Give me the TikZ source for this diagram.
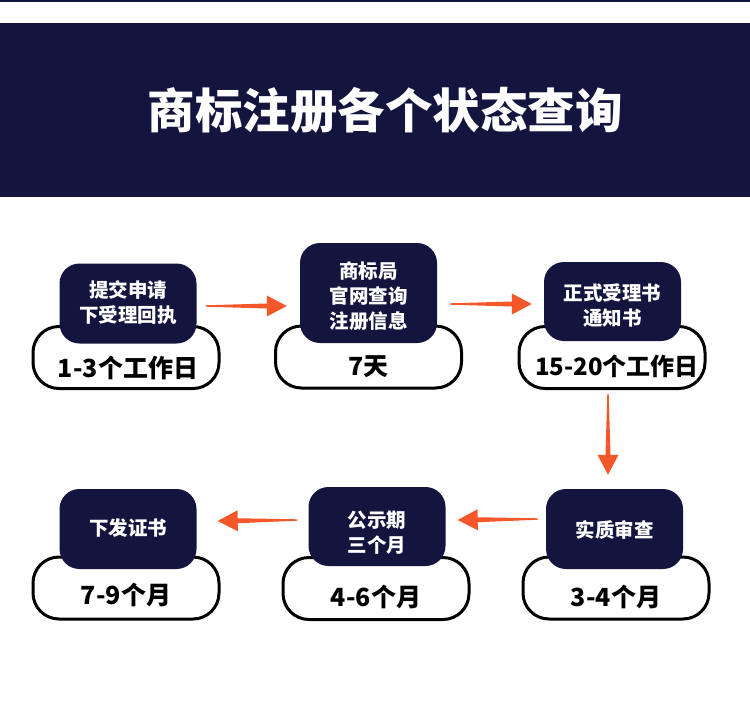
\documentclass[tikz,border=0pt]{standalone}
\usepackage{fontspec}
\newfontfamily\cjk{Noto Sans CJK SC}
\usetikzlibrary{calc}
\definecolor{navy}{HTML}{14153F}
\definecolor{arrowc}{HTML}{F4582A}
\newcommand{\tarrow}[2]{%
  \coordinate (th) at ($(#2)!20pt!(#1)$);
  \fill[arrowc] ($(#1)!0.7pt!90:(#2)$) -- ($(th)!2.5pt!90:(#2)$) -- ($(th)!10.5pt!90:(#2)$)
    -- (#2) -- ($(th)!10.5pt!-90:(#2)$) -- ($(th)!2.5pt!-90:(#2)$) -- ($(#1)!0.7pt!-90:(#2)$) -- cycle;}
\tikzset{
  darkbox/.style={fill=navy, rounded corners=20pt, inner sep=0pt, minimum width=137pt, minimum height=80pt},
  whitebox/.style={fill=white, draw=black, line width=3pt, rounded corners=26pt, inner sep=0pt, minimum width=186pt, minimum height=62pt},
  boxtext/.style={text=white, align=center, font=\cjk\bfseries\fontsize{19.5}{25}\selectfont, inner sep=0pt},
  timetext/.style={text=black, font=\cjk\bfseries\fontsize{25}{30}\selectfont, inner sep=0pt},
  titletext/.style={text=white, font=\cjk\bfseries\fontsize{47.5}{56}\selectfont, inner sep=0pt}
}
\begin{document}
\begin{tikzpicture}[x=1pt,y=-1pt]
\useasboundingbox (0,0) rectangle (750,718);
\fill[white] (0,0) rectangle (750,718);
\fill[navy] (0,0) rectangle (750,2);
\fill[navy] (0,23) rectangle (750,197);
\node[titletext] (title) at (385,110) {商标注册各个状态查询};

% white boxes
\node[whitebox] (w1) at (126,357.5) {};
\node[whitebox] (w2) at (368.5,357) {};
\node[whitebox] (w3) at (612,357.5) {};
\node[whitebox] (w4) at (616,588) {};
\node[whitebox] (w5) at (376,588.5) {};
\node[whitebox] (w6) at (126,588) {};

% dark boxes
\node[darkbox] (d1) at (128,303.5) {};
\node[darkbox, minimum height=100pt] (d2) at (368.5,293) {};
\node[darkbox, minimum height=79pt] (d3) at (612.5,301.5) {};
\node[darkbox] (d4) at (614.5,529) {};
\node[darkbox, minimum height=79pt] (d5) at (377,526.5) {};
\node[darkbox] (d6) at (128,529) {};

% box texts
\node[boxtext] (t1) at (128,303) {提交申请\\下受理回执};
\node[boxtext] (t2) at (368.5,296) {商标局\\官网查询\\注册信息};
\node[boxtext] (t3) at (612.5,306) {正式受理书\\通知书};
\node[boxtext] (t4) at (614.5,530) {实质审查};
\node[boxtext] (t5) at (377,532.5) {公示期\\三个月};
\node[boxtext] (t6) at (128,528) {下发证书};

% time texts
\node[timetext] (n1) at (128,368) {1-3个工作日};
\node[timetext] (n2) at (368.5,367) {7天};
\node[timetext, font=\cjk\bfseries\fontsize{24}{30}\selectfont] (n3) at (617,366) {15-20个工作日};
\node[timetext] (n4) at (616,597) {3-4个月};
\node[timetext] (n5) at (376,597) {4-6个月};
\node[timetext] (n6) at (126,595) {7-9个月};

% arrows
\coordinate (a1s) at ($(d1.east)+(9,2.5)$);
\coordinate (a1e) at ($(d2.west)+(-13,13)$);
\tarrow{a1s}{a1e}
\coordinate (a2s) at ($(d2.east)+(13,11)$);
\coordinate (a2e) at ($(d3.west)+(-12,2.5)$);
\tarrow{a2s}{a2e}
\coordinate (a3s) at ($(w3.south)+(-4,4)$);
\coordinate (a3e) at ($(d4.north)+(-6.5,-14)$);
\tarrow{a3s}{a3e}
\coordinate (a4s) at ($(d4.west)+(-8,-10)$);
\coordinate (a4e) at ($(d5.east)+(12,-6.5)$);
\tarrow{a4s}{a4e}
\coordinate (a5s) at ($(d5.west)+(-11,-6.5)$);
\coordinate (a5e) at ($(d6.east)+(21,-8)$);
\tarrow{a5s}{a5e}
\end{tikzpicture}
\end{document}
